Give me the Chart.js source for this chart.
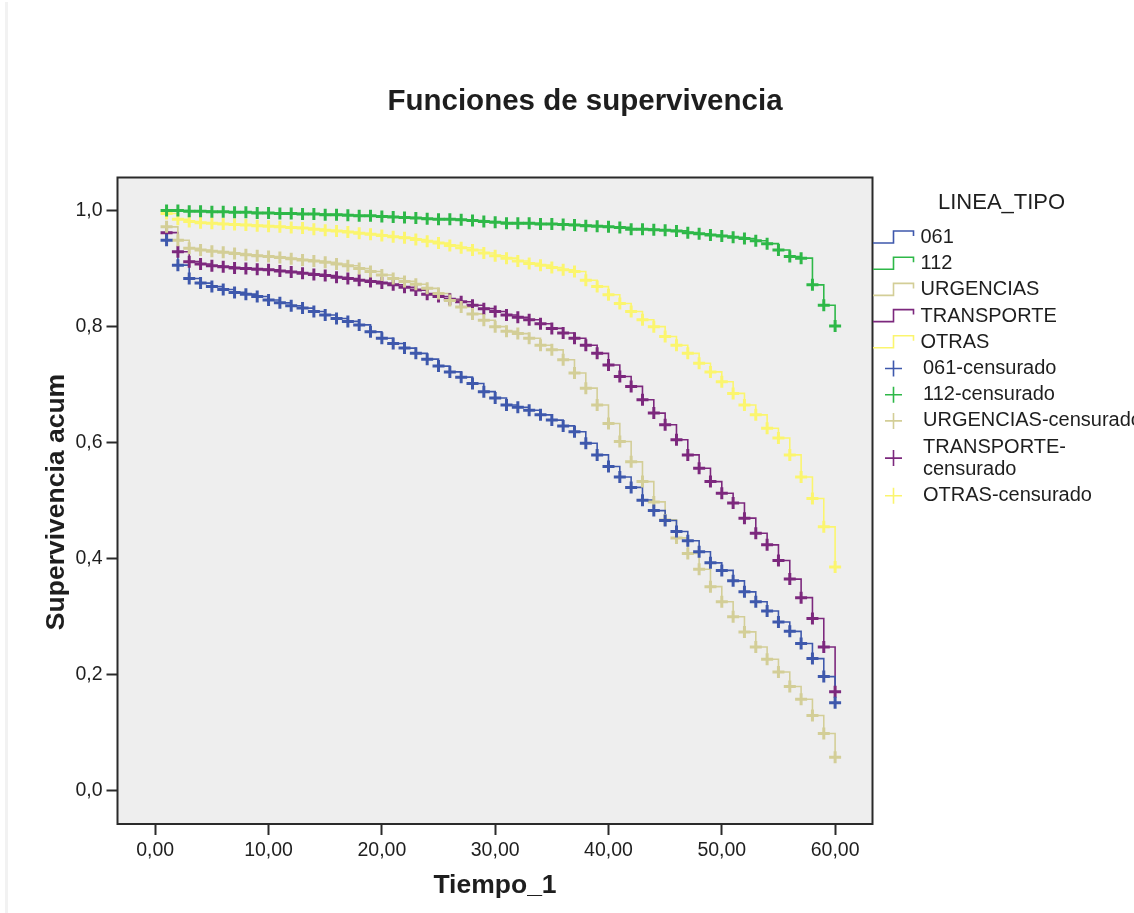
<!DOCTYPE html>
<html>
<head>
<meta charset="utf-8">
<script src="https://cdn.jsdelivr.net/npm/chart.js@4.4.1/dist/chart.umd.min.js"></script>
<style>
html,body{margin:0;padding:0;background:#ffffff;}
#wrap{position:relative;width:1134px;height:913px;overflow:hidden;}
#strip{position:absolute;left:5px;top:2px;width:3px;height:911px;background:#f2f2f2;}
#c{position:absolute;left:0;top:0;}
</style>
</head>
<body>
<div id="wrap"><div id="strip"></div><canvas id="c" width="1134" height="913"></canvas></div>
<script>
// ---- data ----
const chartTitle = 'Funciones de supervivencia';
const xTitle = 'Tiempo_1';
const yTitle = 'Supervivencia acum';
const legendTitle = 'LINEA_TIPO';
const seriesNames = ['061', '112', 'URGENCIAS', 'TRANSPORTE', 'OTRAS'];
const censorSuffix = '-censurado';

const months = [1,2,3,4,5,6,7,8,9,10,11,12,13,14,15,16,17,18,19,20,
  21,22,23,24,25,26,27,28,29,30,31,32,33,34,35,36,37,38,39,40,
  41,42,43,44,45,46,47,48,49,50,51,52,53,54,55,56,57,58,59,60];

const s061 = [0.949,0.906,0.883,0.875,0.869,0.864,0.859,0.856,0.852,0.846,
  0.841,0.836,0.832,0.826,0.820,0.814,0.809,0.803,0.791,0.780,
  0.771,0.763,0.754,0.744,0.732,0.722,0.713,0.702,0.688,0.677,
  0.665,0.661,0.656,0.648,0.639,0.629,0.619,0.599,0.579,0.559,
  0.541,0.523,0.501,0.483,0.466,0.447,0.431,0.412,0.393,0.380,
  0.362,0.343,0.326,0.310,0.291,0.275,0.254,0.228,0.197,0.152];

const s112 = [1.000,1.000,0.999,0.999,0.998,0.998,0.997,0.997,0.996,0.996,
  0.995,0.995,0.994,0.994,0.993,0.993,0.992,0.991,0.991,0.990,
  0.989,0.988,0.987,0.986,0.985,0.985,0.984,0.983,0.981,0.980,
  0.978,0.978,0.978,0.977,0.977,0.976,0.975,0.974,0.973,0.972,
  0.971,0.968,0.968,0.967,0.966,0.965,0.962,0.960,0.958,0.956,
  0.954,0.952,0.948,0.943,0.932,0.921,0.918,0.872,0.837,0.801];

const sUrgencias = [0.972,0.949,0.935,0.932,0.930,0.928,0.926,0.924,0.922,0.921,
  0.919,0.917,0.915,0.913,0.911,0.908,0.905,0.900,0.895,0.889,
  0.883,0.878,0.873,0.866,0.857,0.845,0.834,0.822,0.811,0.800,
  0.792,0.788,0.780,0.768,0.760,0.743,0.720,0.694,0.665,0.633,
  0.602,0.567,0.533,0.498,0.467,0.436,0.409,0.382,0.352,0.326,
  0.300,0.274,0.248,0.227,0.205,0.180,0.158,0.130,0.099,0.058];

const sTransporte = [0.962,0.929,0.912,0.908,0.905,0.903,0.901,0.900,0.899,0.898,
  0.896,0.894,0.892,0.890,0.888,0.885,0.883,0.880,0.878,0.875,
  0.872,0.868,0.863,0.856,0.852,0.847,0.843,0.837,0.831,0.826,
  0.820,0.816,0.812,0.805,0.797,0.789,0.780,0.768,0.754,0.734,
  0.714,0.697,0.674,0.651,0.631,0.605,0.579,0.556,0.533,0.513,
  0.496,0.470,0.444,0.424,0.397,0.365,0.333,0.297,0.248,0.171];

const sOtras = [0.995,0.985,0.981,0.979,0.978,0.977,0.976,0.975,0.974,0.973,
  0.972,0.971,0.970,0.968,0.966,0.965,0.963,0.961,0.959,0.957,
  0.955,0.953,0.950,0.947,0.944,0.940,0.936,0.932,0.927,0.922,
  0.918,0.913,0.909,0.906,0.902,0.898,0.895,0.880,0.869,0.855,
  0.840,0.826,0.812,0.800,0.783,0.768,0.754,0.737,0.722,0.705,
  0.685,0.665,0.648,0.625,0.608,0.579,0.541,0.504,0.455,0.386];

const xTicks = [0, 10, 20, 30, 40, 50, 60];
const yTicks = [0.0, 0.2, 0.4, 0.6, 0.8, 1.0];

// ---- styling ----
const seriesValues = [s061, s112, sUrgencias, sTransporte, sOtras];
const colors = ['#3E58AC', '#2EB848', '#D3CE97', '#7C287D', '#FBF56E'];
const FONT = "'Liberation Sans', Arial, sans-serif";
const TXT = '#1e1e1e';

const toPoints = vals => months.map((t, i) => ({x: t, y: vals[i]}));

const datasets = [];
seriesValues.forEach((vals, i) => {
  datasets.push({
    label: seriesNames[i] + censorSuffix,
    data: toPoints(vals),
    showLine: false,
    pointStyle: 'cross',
    pointRadius: 6,
    pointHoverRadius: 6,
    pointBorderWidth: 3,
    pointBorderColor: colors[i],
    borderColor: colors[i],
    backgroundColor: colors[i]
  });
});
seriesValues.forEach((vals, i) => {
  datasets.push({
    label: seriesNames[i],
    data: toPoints(vals),
    showLine: true,
    stepped: true,
    borderColor: colors[i],
    borderWidth: 1.6,
    pointRadius: 0,
    pointHoverRadius: 0,
    fill: false
  });
});

const decor = {
  id: 'decor',
  beforeDatasetsDraw(chart) {
    const a = chart.chartArea, ctx = chart.ctx;
    ctx.save();
    ctx.fillStyle = '#eeeeee';
    ctx.fillRect(a.left, a.top, a.right - a.left, a.bottom - a.top);
    ctx.restore();
  },
  afterDraw(chart) {
    const a = chart.chartArea, ctx = chart.ctx;
    ctx.save();
    // frame
    ctx.strokeStyle = '#2a2a2a';
    ctx.lineWidth = 2;
    ctx.strokeRect(a.left, a.top, a.right - a.left, a.bottom - a.top);

    ctx.fillStyle = TXT;
    // title
    ctx.font = 'bold 29.5px ' + FONT;
    ctx.textAlign = 'center';
    ctx.textBaseline = 'middle';
    ctx.fillText(chartTitle, 585, 102);
    // x title
    ctx.font = 'bold 26.5px ' + FONT;
    ctx.fillText(xTitle, 495, 886);
    // y title
    ctx.save();
    ctx.translate(57, 502);
    ctx.rotate(-Math.PI / 2);
    ctx.fillText(yTitle, 0, 0);
    ctx.restore();

    // legend
    ctx.textAlign = 'left';
    ctx.font = '22px ' + FONT;
    ctx.fillText(legendTitle, 938, 203);
    ctx.font = '20px ' + FONT;
    const rowH = 26.2;
    let y = 237.5;
    seriesNames.forEach((n, i) => {
      ctx.strokeStyle = colors[i];
      ctx.lineWidth = 1.6;
      ctx.beginPath();
      ctx.moveTo(873, y + 5.5);
      ctx.lineTo(893.5, y + 5.5);
      ctx.lineTo(893.5, y - 6.5);
      ctx.lineTo(913.5, y - 6.5);
      ctx.lineTo(913.5, y - 1.5);
      ctx.stroke();
      ctx.fillStyle = TXT;
      ctx.fillText(n, 920.5, y);
      y += rowH;
    });
    y = 368.5;
    seriesNames.forEach((n, i) => {
      let label = n + censorSuffix;
      let lines = [label];
      if (ctx.measureText(label).width > 225) {
        lines = [n + '-', censorSuffix.slice(1)];
      }
      const cy = lines.length > 1 ? y + 11 : y;
      ctx.strokeStyle = colors[i];
      ctx.lineWidth = 1.6;
      ctx.beginPath();
      ctx.moveTo(885, cy); ctx.lineTo(902, cy);
      ctx.moveTo(893.5, cy - 8); ctx.lineTo(893.5, cy + 8);
      ctx.stroke();
      ctx.fillStyle = TXT;
      lines.forEach((ln, k) => ctx.fillText(ln, 923, y + k * 22.5));
      y += rowH + (lines.length - 1) * 22.5;
    });
    ctx.restore();
  }
};

new Chart(document.getElementById('c'), {
  type: 'line',
  data: {datasets},
  plugins: [decor],
  options: {
    responsive: false,
    animation: false,
    devicePixelRatio: 1,
    events: [],
    layout: {padding: {top: 177.5, right: 261.5, bottom: 0, left: 0}},
    plugins: {legend: {display: false}, tooltip: {enabled: false}, title: {display: false}},
    scales: {
      x: {
        type: 'linear',
        min: -3.33, max: 63.3,
        afterBuildTicks: s => { s.ticks = xTicks.map(v => ({value: v})); },
        afterFit: s => { s.height = 89; },
        ticks: {
          autoSkip: false, maxRotation: 0, padding: 4,
          color: TXT, font: {family: FONT, size: 19.5},
          callback: v => v.toFixed(2).replace('.', ',')
        },
        grid: {drawOnChartArea: false, drawTicks: true, tickLength: 11, tickColor: '#2a2a2a', tickWidth: 2},
        border: {display: false}
      },
      y: {
        type: 'linear',
        min: -0.057, max: 1.057,
        afterBuildTicks: s => { s.ticks = yTicks.map(v => ({value: v})); },
        afterFit: s => { s.width = 117.5; },
        ticks: {
          padding: 4,
          color: TXT, font: {family: FONT, size: 19.5},
          callback: v => v.toFixed(1).replace('.', ',')
        },
        grid: {drawOnChartArea: false, drawTicks: true, tickLength: 11, tickColor: '#2a2a2a', tickWidth: 2},
        border: {display: false}
      }
    }
  }
});
</script>
</body>
</html>
